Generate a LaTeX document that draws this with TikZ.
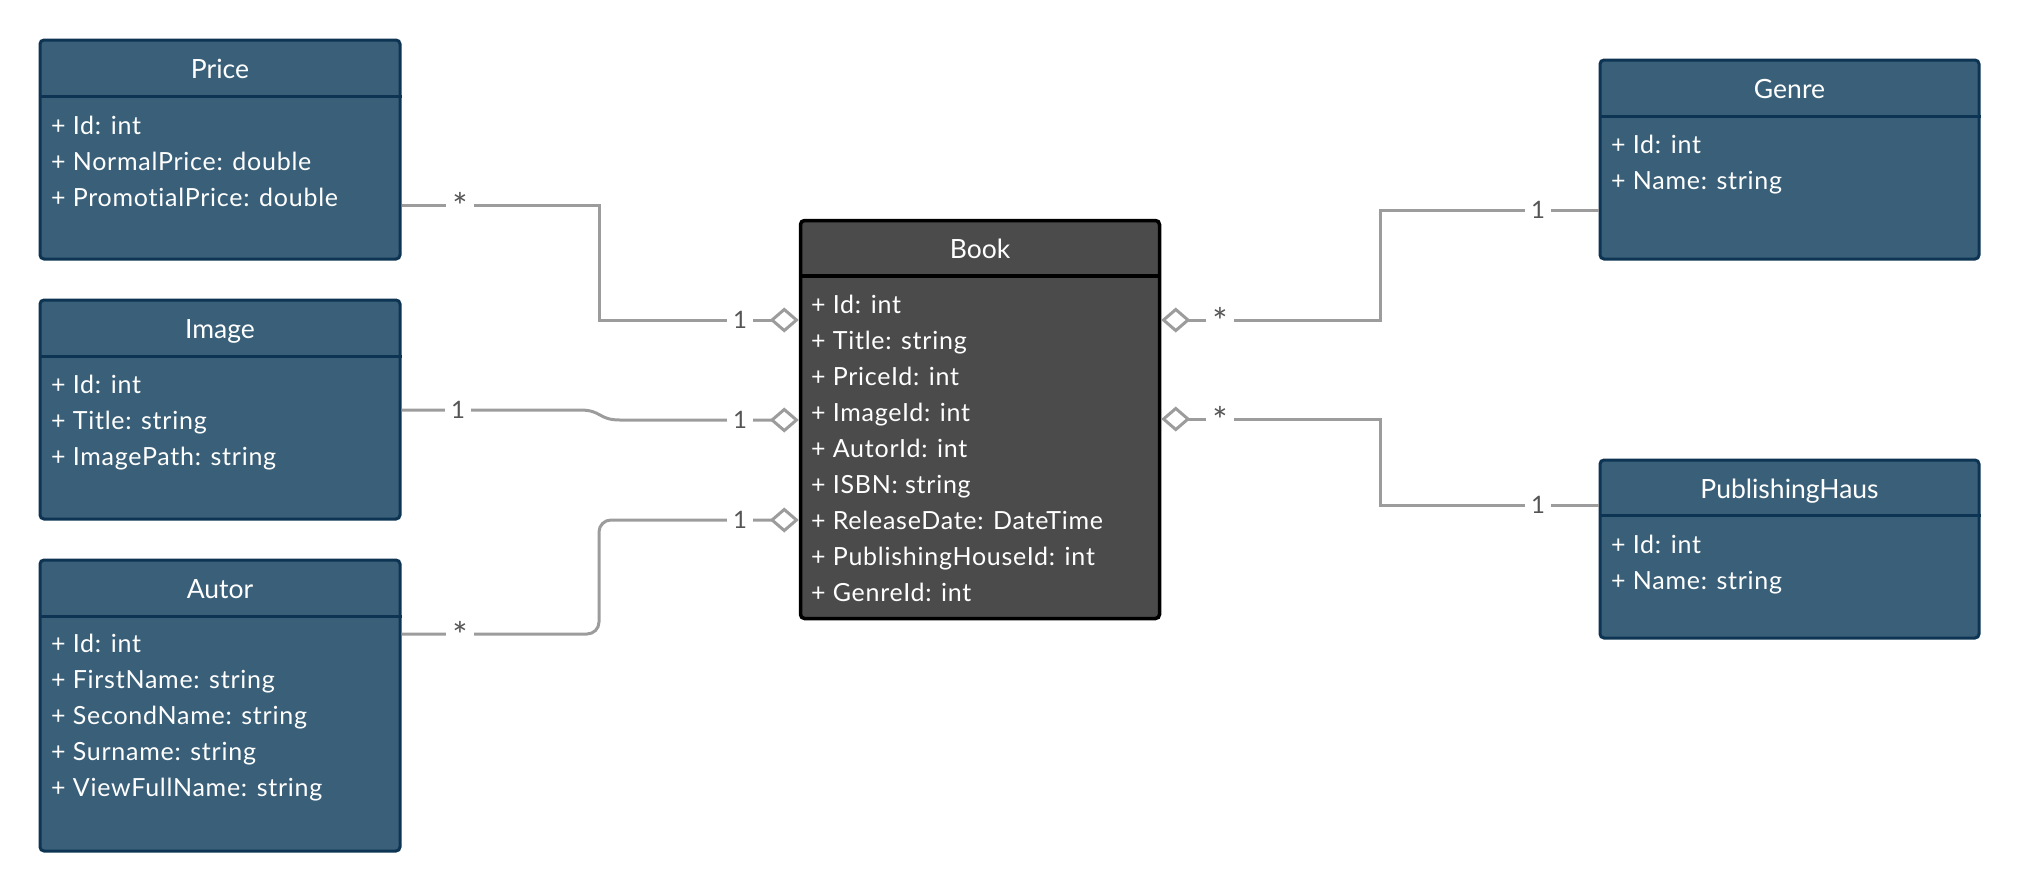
\documentclass[tikz,border=0pt]{standalone}
\usepackage{fontspec}
\setmainfont{Lato}[Ligatures=NoCommon]
\newfontfamily\attrfont{Lato}[LetterSpace=3, Ligatures=NoCommon]
\usetikzlibrary{arrows.meta,calc}
\definecolor{boxfill}{HTML}{3A6079}
\definecolor{boxline}{HTML}{0D3452}
\definecolor{bookfill}{HTML}{4B4B4B}
\definecolor{connc}{HTML}{9C9C9C}
\definecolor{labc}{HTML}{555555}
\tikzset{
  classbox/.style={draw=boxline, fill=boxfill, line width=3pt, rounded corners=4pt, inner sep=0pt},
  bookbox/.style={draw=black, fill=bookfill, line width=3.5pt, rounded corners=4pt, inner sep=0pt},
  ttl/.style={text=white, anchor=base, inner sep=0pt, font=\fontsize{26.5}{30}\selectfont},
  attr/.style={text=white, anchor=base west, inner sep=0pt, font=\attrfont\fontsize{25}{28}\selectfont},
  conn/.style={draw=connc, line width=3pt},
  agg/.style={{Diamond[open, length=29pt, width=25pt]}-},
  mult/.style={fill=white, text=labc, inner xsep=6pt, inner ysep=2pt, font=\fontsize{24}{28}\selectfont},
  star/.style={fill=white, text=labc, inner xsep=6pt, inner ysep=2pt, font=\fontsize{36}{36}\selectfont},
}
\begin{document}
\begin{tikzpicture}[x=1pt, y=-1pt]
\useasboundingbox (0,0) rectangle (2020,892);
% boxes
\node[classbox, minimum width=360pt, minimum height=219pt] (price) at (220,149.5) {};
\node[classbox, minimum width=360pt, minimum height=219pt] (image) at (220,409.5) {};
\node[classbox, minimum width=360pt, minimum height=291pt] (autor) at (220,705.5) {};
\node[bookbox, minimum width=359pt, minimum height=398pt] (book) at (980,419.5) {};
\node[classbox, minimum width=379pt, minimum height=199pt] (genre) at (1789.5,159.5) {};
\node[classbox, minimum width=379pt, minimum height=178pt] (pub) at (1789.5,549) {};
% header dividers
\draw[boxline, line width=3pt] (price.west |- 0,96) -- (price.east |- 0,96);
\draw[boxline, line width=3pt] (image.west |- 0,356) -- (image.east |- 0,356);
\draw[boxline, line width=3pt] (autor.west |- 0,616) -- (autor.east |- 0,616);
\draw[black, line width=3.5pt] (book.west |- 0,276) -- (book.east |- 0,276);
\draw[boxline, line width=3pt] (genre.west |- 0,116) -- (genre.east |- 0,116);
\draw[boxline, line width=3pt] (pub.west |- 0,515) -- (pub.east |- 0,515);
% titles
\node[ttl] (price-t) at (220,78) {Price};
\node[ttl] (image-t) at (220,338.5) {Image};
\node[ttl] (autor-t) at (220,598.5) {Autor};
\node[ttl] (book-t) at (980,258) {Book};
\node[ttl] (genre-t) at (1789.5,98) {Genre};
\node[ttl] (pub-t) at (1789.5,498) {PublishingHaus};
% attributes
\foreach \t [count=\i from 0] in {{+ Id: int},{+ NormalPrice: double},{+ PromotialPrice: double}}
  \node[attr] (price-a\i) at (51,134+36*\i) {\t};
\foreach \t [count=\i from 0] in {{+ Id: int},{+ Title: string},{+ ImagePath: string}}
  \node[attr] (image-a\i) at (51,393+36*\i) {\t};
\foreach \t [count=\i from 0] in {{+ Id: int},{+ FirstName: string},{+ SecondName: string},{+ Surname: string},{+ ViewFullName: string}}
  \node[attr] (autor-a\i) at (51,652+36*\i) {\t};
\foreach \t [count=\i from 0] in {{+ Id: int},{+ Title: string},{+ PriceId: int},{+ ImageId: int},{+ AutorId: int},{+ ISBN: string},{+ ReleaseDate: DateTime},{+ PublishingHouseId: int},{+ GenreId: int}}
  \node[attr] (book-a\i) at (811,313+36*\i) {\t};
\foreach \t [count=\i from 0] in {{+ Id: int},{+ Name: string}}
  \node[attr] (genre-a\i) at (1611,153+36*\i) {\t};
\foreach \t [count=\i from 0] in {{+ Id: int},{+ Name: string}}
  \node[attr] (pub-a\i) at (1611,553+36*\i) {\t};
% connectors
\draw[conn, agg] (book.west |- 0,320) -- (599,320) -- (599,205) -- (price.east |- 0,205);
\draw[conn, agg] (book.west |- 0,420) -- (620,420) .. controls (598,420) and (602,410) .. (580,410) -- (image.east |- 0,410);
\draw[conn, agg, rounded corners=12pt] (book.west |- 0,520) -- (599,520) -- (599,634) -- (autor.east |- 0,634);
\draw[conn, agg] (book.east |- 0,320) -- (1380,320) -- (1380,210) -- (genre.west |- 0,210);
\draw[conn, agg] (book.east |- 0,419) -- (1380,419) -- (1380,505) -- (pub.west |- 0,505);
% multiplicities
\node[star] (m1) at (460,206) {*};
\node[mult] (m2) at (740,320) {1};
\node[mult] (m3) at (458,410) {1};
\node[mult] (m4) at (740,420) {1};
\node[star] (m5) at (460,635) {*};
\node[mult] (m6) at (740,520) {1};
\node[star] (m7) at (1220,321) {*};
\node[mult] (m8) at (1538,210) {1};
\node[star] (m9) at (1220,420) {*};
\node[mult] (m10) at (1538,505) {1};
\end{tikzpicture}
\end{document}
